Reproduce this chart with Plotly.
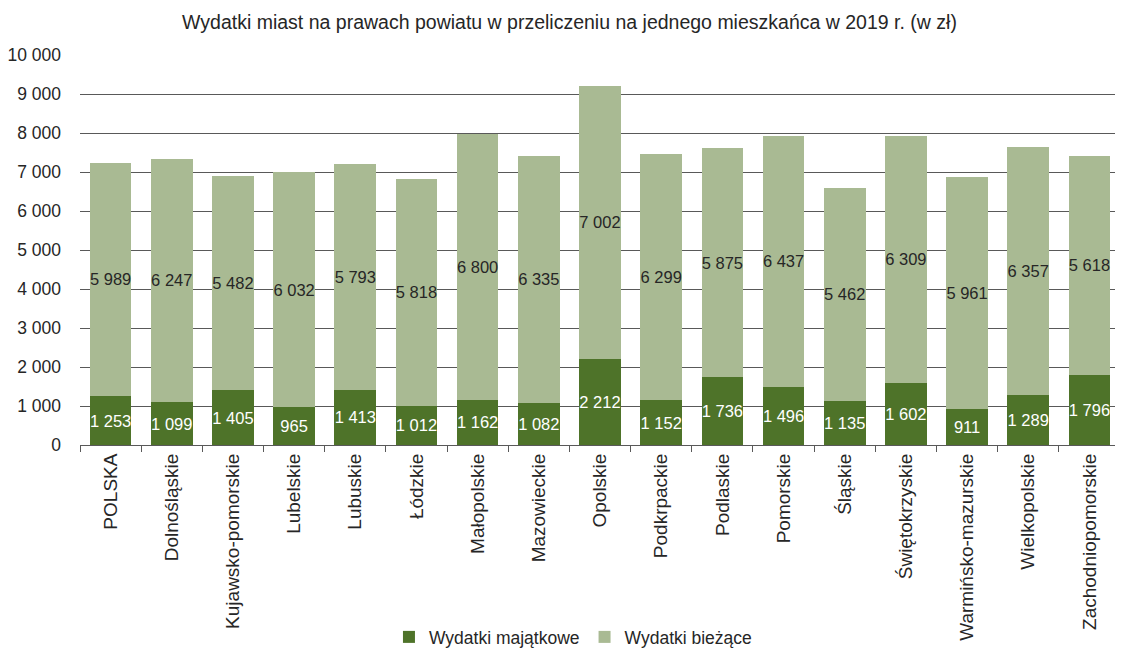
import plotly.graph_objects as go

# Data
regions = ["POLSKA", "Dolnośląskie", "Kujawsko-pomorskie", "Lubelskie", "Lubuskie",
           "Łódzkie", "Małopolskie", "Mazowieckie", "Opolskie", "Podkrpackie",
           "Podlaskie", "Pomorskie", "Śląskie", "Świętokrzyskie",
           "Warmińsko-mazurskie", "Wielkopolskie", "Zachodniopomorskie"]
majatkowe = [1253, 1099, 1405, 965, 1413, 1012, 1162, 1082, 2212, 1152,
             1736, 1496, 1135, 1602, 911, 1289, 1796]
biezace = [5989, 6247, 5482, 6032, 5793, 5818, 6800, 6335, 7002, 6299,
           5875, 6437, 5462, 6309, 5961, 6357, 5618]


def fmt(v):
    return f"{v:,}".replace(",", " ")


fig = go.Figure()
fig.add_trace(go.Bar(x=regions, y=majatkowe, name="Wydatki majątkowe",
                     marker_color="#4E7329", marker_line_width=0,
                     text=[fmt(v) for v in majatkowe], textposition="inside",
                     insidetextanchor="middle", textangle=0,
                     textfont=dict(color="white", size=16.5)))
fig.add_trace(go.Bar(x=regions, y=biezace, name="Wydatki bieżące",
                     marker_color="#A9BA93", marker_line_width=0,
                     text=[fmt(v) for v in biezace], textposition="inside",
                     insidetextanchor="middle", textangle=0,
                     textfont=dict(color="#262626", size=16.5)))

# the page body has an 8px margin, so the margins are shifted by 8px
fig.update_layout(
    barmode="stack",
    bargap=0.32,
    width=1123, height=648,
    margin=dict(l=72, r=11, t=47, b=211),
    paper_bgcolor="white", plot_bgcolor="white",
    font=dict(family="Liberation Sans, Arial, sans-serif", size=17, color="#262626"),
    separators=", ",
    uniformtext=dict(minsize=16.5, mode="show"),
    title=dict(text="Wydatki miast na prawach powiatu w przeliczeniu na jednego mieszkańca w 2019 r. (w zł)",
               x=0.5, xref="container", y=0.978, yref="container", yanchor="middle",
               font=dict(size=19.5, color="#262626")),
    legend=dict(orientation="h", x=0.474, xanchor="center",
                y=0.0293, yref="container", yanchor="middle",
                font=dict(size=17.5), traceorder="normal"),
    xaxis=dict(tickangle=-90, showline=True, linecolor="#595959", linewidth=1,
               ticks="outside", tickson="boundaries", ticklen=6, tickcolor="#595959",
               showgrid=False, tickfont=dict(size=19), automargin=False),
    yaxis=dict(range=[0, 10000], dtick=1000, tickformat=",d", showgrid=True,
               gridcolor="#595959", gridwidth=1, zeroline=False, showline=False,
               ticks="", ticklabelstandoff=18, tickfont=dict(size=17.5),
               automargin=False),
)

fig.write_html("out.html")
